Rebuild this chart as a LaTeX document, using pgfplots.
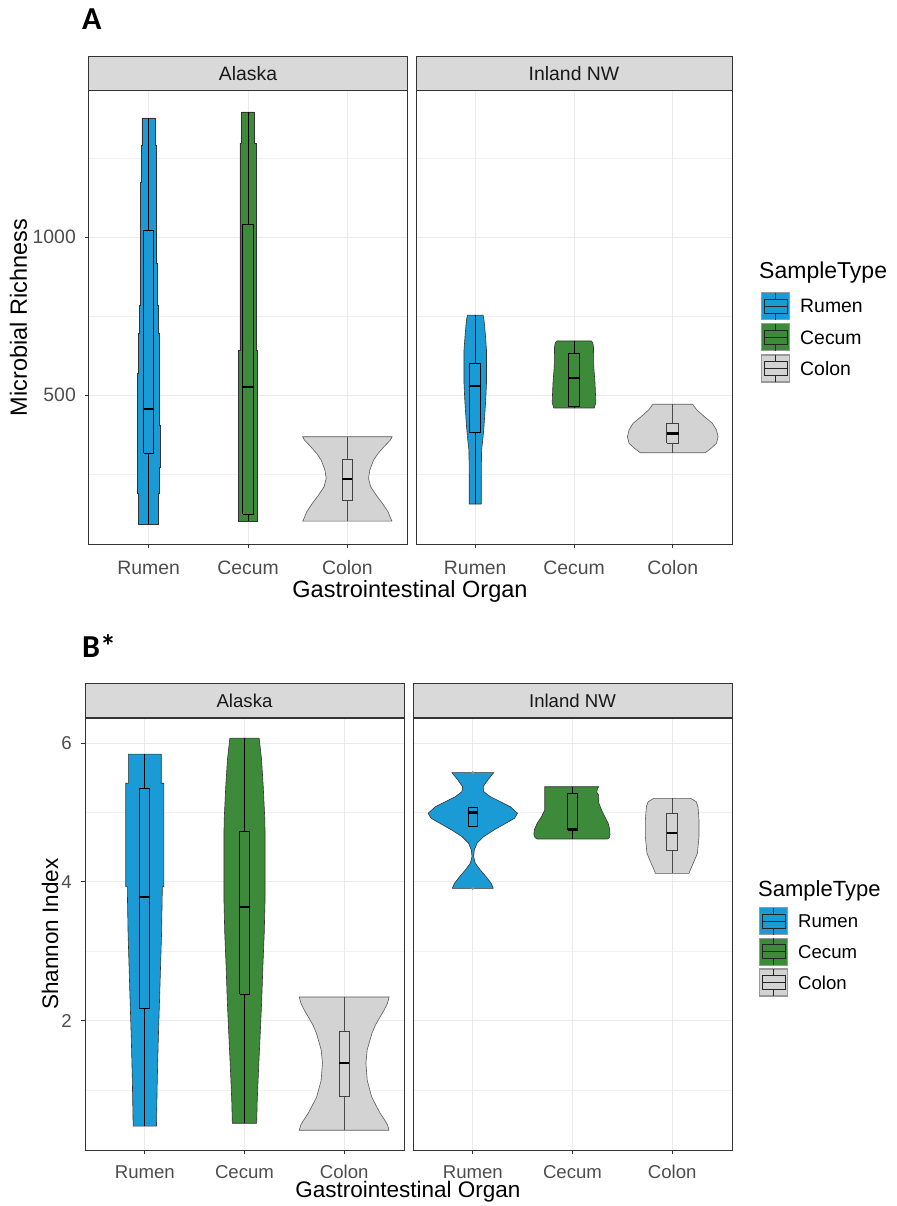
\documentclass[border=0pt]{standalone}
\usepackage{fontspec}
\setmainfont{Liberation Sans}
\newfontfamily\carlito{Carlito}
\usepackage{pgfplots}
\pgfplotsset{compat=1.18}

\definecolor{rumenc}{RGB}{27,155,213}
\definecolor{cecumc}{RGB}{61,139,58}
\definecolor{colonc}{RGB}{211,211,211}
\definecolor{stripc}{RGB}{217,217,217}
\definecolor{framec}{RGB}{51,51,51}
\definecolor{gridc}{RGB}{235,235,235}
\definecolor{tickc}{RGB}{77,77,77}

\newcommand\fA{\fontsize{19.4}{22}\selectfont}
\newcommand\fB{\fontsize{18.6}{21}\selectfont}

\newcommand{\legkey}[1]{%
  \draw[fill=#1, draw=black!40, line width=1.2pt] (0pt,-13.5pt) rectangle (28pt,13.5pt);
  \draw[draw=black!85, line width=0.9pt] (2.5pt,-7pt) rectangle (25.5pt,7pt);
  \draw[draw=black!85, line width=0.9pt] (2.5pt,0pt) -- (25.5pt,0pt) (14pt,7pt) -- (14pt,13.5pt) (14pt,-7pt) -- (14pt,-13.5pt);
}

\pgfplotsset{
  facet/.style={
    scale only axis, anchor=south west, clip=false,
    xmin=0.4, xmax=3.6,
    xtick={1,2,3}, xticklabels={Rumen,Cecum,Colon},
    axis line style={draw=framec, line width=1pt},
    tick pos=left, tick align=outside, major tick length=4pt,
    tick style={draw=framec, line width=0.8pt},
    minor tick length=0pt,
    xmajorgrids, ymajorgrids, yminorgrids,
    major grid style={draw=gridc, line width=0.8pt},
    minor grid style={draw=gridc!70, line width=0.45pt},
    xticklabel style={anchor=base, inner sep=0pt, text=tickc},
    yticklabel style={anchor=east, inner sep=0pt, text=tickc, xshift=-9pt},
    every axis title/.style={at={(0.5,1)}, anchor=south, fill=stripc, draw=framec, line width=1pt, minimum height=34pt, inner sep=0pt, text=black!90},
    legend cell align=left,
  },
  vio/.style={fill=#1, draw=black!80, line width=0.6pt, forget plot},
  bxw/.style={draw=black, line width=0.8pt, forget plot},
  bxb/.style={fill=#1, draw=black, line width=0.9pt, forget plot},
  bxm/.style={draw=black, line width=2.4pt, forget plot},
}

\begin{document}
\begin{tikzpicture}
\useasboundingbox (0pt,0pt) rectangle (896pt,-1206pt);

% ================= Panel A, Alaska =================
\begin{axis}[facet, at={(89pt,-544pt)}, width=318pt, height=453pt,
  ymin=28.5, ymax=1462, ytick={500,1000}, yticklabels={500,1000}, minor ytick={250,750,1250},
  tick label style={font=\fA}, xticklabel style={yshift=-26pt},
  title=Alaska, title style={minimum width=318pt, font=\fA},
  ylabel={Microbial Richness},
  every axis y label/.style={at={(axis description cs:-0.195,0.5)}, rotate=90, anchor=base, font=\fontsize{23.5}{26}\selectfont},
  xlabel={Gastrointestinal Organ},
  every axis x label/.style={at={(axis description cs:1.0094,-0.117)}, anchor=base, font=\fontsize{23.5}{26}\selectfont},
]
% Rumen
\addplot[vio=rumenc] coordinates {(1.100,92) (1.100,190) (1.111,190) (1.111,272) (1.116,272) (1.116,405) (1.111,405) (1.111,570) (1.106,570) (1.106,696) (1.096,696) (1.096,785) (1.086,785) (1.086,918) (1.080,918) (1.080,1174) (1.075,1174) (1.075,1291) (1.067,1291) (1.067,1377) (0.933,1377) (0.933,1291) (0.925,1291) (0.925,1174) (0.920,1174) (0.920,918) (0.914,918) (0.914,785) (0.904,785) (0.904,696) (0.894,696) (0.894,570) (0.889,570) (0.889,405) (0.884,405) (0.884,272) (0.889,272) (0.889,190) (0.900,190) (0.900,92) (1.100,92)};
\addplot[bxw] coordinates {(1,92) (1,316)};
\addplot[bxw] coordinates {(1,1022) (1,1377)};
\addplot[bxb=rumenc] coordinates {(0.95,316) (1.05,316) (1.05,1022) (0.95,1022) (0.95,316)};
\addplot[bxm] coordinates {(0.95,456) (1.05,456)};
% Cecum
\addplot[vio=cecumc] coordinates {(2.096,101) (2.096,642) (2.082,642) (2.082,1297) (2.067,1297) (2.067,1396) (1.933,1396) (1.933,1297) (1.918,1297) (1.918,642) (1.904,642) (1.904,101) (2.096,101)};
\addplot[bxw] coordinates {(2,101) (2,123)};
\addplot[bxw] coordinates {(2,1041) (2,1396)};
\addplot[bxb=cecumc] coordinates {(1.945,123) (2.055,123) (2.055,1041) (1.945,1041) (1.945,123)};
\addplot[bxm] coordinates {(1.945,525) (2.055,525)};
% Colon
\addplot[vio=colonc, draw=black!65] coordinates {(3.450,101) (3.443,104.4) (3.409,130.7) (3.352,157.3) (3.290,183.5) (3.234,209.8) (3.213,236.4) (3.226,262.7) (3.264,294.3) (3.310,315.5) (3.369,336.4) (3.433,357.6) (3.450,368) (2.550,368) (2.567,357.6) (2.631,336.4) (2.690,315.5) (2.736,294.3) (2.774,262.7) (2.787,236.4) (2.766,209.8) (2.710,183.5) (2.648,157.3) (2.591,130.7) (2.557,104.4) (2.550,101) (3.450,101)};
\addplot[bxw, draw=black!70] coordinates {(3,101) (3,167.7)};
\addplot[bxw, draw=black!70] coordinates {(3,297.5) (3,368)};
\addplot[bxb=colonc, draw=black!75] coordinates {(2.95,167.7) (3.05,167.7) (3.05,297.5) (2.95,297.5) (2.95,167.7)};
\addplot[bxm] coordinates {(2.95,234.2) (3.05,234.2)};
\end{axis}

% ================= Panel A, Inland NW =================
\begin{axis}[facet, at={(416pt,-544pt)}, width=316pt, height=453pt,
  ymin=28.5, ymax=1462, ytick={500,1000}, yticklabels={}, minor ytick={250,750,1250},
  major y tick style={draw=none},
  tick label style={font=\fA}, xticklabel style={yshift=-26pt},
  title=Inland NW, title style={minimum width=316pt, font=\fA},
  legend style={at={(axis description cs:1.0918,0.5563)}, anchor=north west, draw=none, fill=none, inner sep=0pt, outer sep=0pt, row sep=3pt, column sep=5pt, nodes={inner xsep=5pt, inner ysep=0pt, text depth=0pt, font=\fA}},
]
\addlegendimage{legend image code/.code={\legkey{rumenc}}}
\addlegendentry{Rumen}
\addlegendimage{legend image code/.code={\legkey{cecumc}}}
\addlegendentry{Cecum}
\addlegendimage{legend image code/.code={\legkey{colonc}}}
\addlegendentry{Colon}
% Rumen
\addplot[vio=rumenc] coordinates {(1.061,155) (1.061,241) (1.064,326) (1.076,358) (1.088,399) (1.106,484) (1.114,538) (1.114,642) (1.101,696) (1.089,737) (1.079,753) (0.921,753) (0.911,737) (0.899,696) (0.886,642) (0.886,538) (0.894,484) (0.912,399) (0.924,358) (0.936,326) (0.939,241) (0.939,155) (1.061,155)};
\addplot[bxw] coordinates {(1,155) (1,380)};
\addplot[bxw] coordinates {(1,601) (1,753)};
\addplot[bxb=rumenc] coordinates {(0.944,380) (1.056,380) (1.056,601) (0.944,601) (0.944,380)};
\addplot[bxm] coordinates {(0.944,528) (1.056,528)};
% Cecum
\addplot[vio=cecumc] coordinates {(2.205,459) (2.220,475) (2.220,484) (2.213,538) (2.200,589) (2.197,652) (2.190,665) (2.175,671) (1.825,671) (1.810,665) (1.803,652) (1.800,589) (1.787,538) (1.780,484) (1.780,475) (1.795,459) (2.205,459)};
\addplot[bxw] coordinates {(2,459) (2,465)};
\addplot[bxw] coordinates {(2,632) (2,671)};
\addplot[bxb=cecumc] coordinates {(1.944,465) (2.056,465) (2.056,632) (1.944,632) (1.944,465)};
\addplot[bxm] coordinates {(1.944,553) (2.056,553)};
% Colon
\addplot[vio=colonc, draw=black!65] coordinates {(3.329,317.4) (3.388,331.3) (3.443,347.2) (3.459,368) (3.443,389.2) (3.402,410.4) (3.321,431.3) (3.245,452.5) (3.201,470.6) (2.799,470.6) (2.755,452.5) (2.679,431.3) (2.598,410.4) (2.557,389.2) (2.541,368) (2.557,347.2) (2.612,331.3) (2.671,317.4) (3.329,317.4)};
\addplot[bxw, draw=black!70] coordinates {(3,317.4) (3,347.2)};
\addplot[bxw, draw=black!70] coordinates {(3,410.4) (3,470.6)};
\addplot[bxb=colonc, draw=black!75] coordinates {(2.938,347.2) (3.062,347.2) (3.062,410.4) (2.938,410.4) (2.938,347.2)};
\addplot[bxm] coordinates {(2.938,378.8) (3.062,378.8)};
\end{axis}

% ================= Panel B, Alaska =================
\begin{axis}[facet, at={(85pt,-1150pt)}, width=319pt, height=432pt,
  ymin=0.135, ymax=6.36, ytick={2,4,6}, yticklabels={2,4,6}, minor ytick={1,3,5},
  tick label style={font=\fB}, xticklabel style={yshift=-24pt},
  title=Alaska, title style={minimum width=319pt, font=\fB},
  ylabel={Shannon Index},
  every axis y label/.style={at={(axis description cs:-0.0846,0.5)}, rotate=90, anchor=base, font=\fontsize{22.5}{25}\selectfont},
  xlabel={Gastrointestinal Organ},
  every axis x label/.style={at={(axis description cs:1.0125,-0.111)}, anchor=base, font=\fontsize{22.5}{25}\selectfont},
]
% Rumen
\addplot[vio=rumenc] coordinates {(1.117,0.48) (1.125,1.14) (1.135,1.72) (1.150,2.40) (1.168,3.26) (1.176,3.93) (1.191,3.93) (1.191,5.42) (1.165,5.42) (1.165,5.84) (0.835,5.84) (0.835,5.42) (0.809,5.42) (0.809,3.93) (0.824,3.93) (0.832,3.26) (0.850,2.40) (0.865,1.72) (0.875,1.14) (0.883,0.48) (1.117,0.48)};
\addplot[bxw] coordinates {(1,0.48) (1,2.17)};
\addplot[bxw] coordinates {(1,5.35) (1,5.84)};
\addplot[bxb=rumenc] coordinates {(0.95,2.17) (1.05,2.17) (1.05,5.35) (0.95,5.35) (0.95,2.17)};
\addplot[bxm] coordinates {(0.95,3.78) (1.05,3.78)};
% Cecum
\addplot[vio=cecumc] coordinates {(2.122,0.52) (2.128,0.86) (2.142,1.33) (2.158,1.82) (2.173,2.30) (2.184,2.77) (2.198,3.26) (2.206,3.74) (2.206,4.70) (2.204,4.89) (2.188,5.37) (2.171,5.76) (2.147,6.07) (1.853,6.07) (1.829,5.76) (1.812,5.37) (1.796,4.89) (1.794,4.70) (1.794,3.74) (1.802,3.26) (1.816,2.77) (1.827,2.30) (1.842,1.82) (1.858,1.33) (1.872,0.86) (1.878,0.52) (2.122,0.52)};
\addplot[bxw] coordinates {(2,0.52) (2,2.38)};
\addplot[bxw] coordinates {(2,4.72) (2,6.07)};
\addplot[bxb=cecumc] coordinates {(1.95,2.38) (2.05,2.38) (2.05,4.72) (1.95,4.72) (1.95,2.38)};
\addplot[bxm] coordinates {(1.95,3.64) (2.05,3.64)};
% Colon
\addplot[vio=colonc, draw=black!65] coordinates {(3.451,0.42) (3.434,0.50) (3.400,0.58) (3.359,0.67) (3.315,0.79) (3.276,0.90) (3.231,1.14) (3.218,1.39) (3.231,1.58) (3.279,1.82) (3.315,1.94) (3.359,2.05) (3.400,2.15) (3.434,2.25) (3.451,2.34) (2.549,2.34) (2.566,2.25) (2.600,2.15) (2.641,2.05) (2.685,1.94) (2.721,1.82) (2.769,1.58) (2.782,1.39) (2.769,1.14) (2.724,0.90) (2.685,0.79) (2.641,0.67) (2.600,0.58) (2.566,0.50) (2.549,0.42) (3.451,0.42)};
\addplot[bxw, draw=black!70] coordinates {(3,0.42) (3,0.91)};
\addplot[bxw, draw=black!70] coordinates {(3,1.85) (3,2.34)};
\addplot[bxb=colonc, draw=black!75] coordinates {(2.95,0.91) (3.05,0.91) (3.05,1.85) (2.95,1.85) (2.95,0.91)};
\addplot[bxm] coordinates {(2.95,1.39) (3.05,1.39)};
\end{axis}

% ================= Panel B, Inland NW =================
\begin{axis}[facet, at={(413pt,-1150pt)}, width=319pt, height=432pt,
  ymin=0.135, ymax=6.36, ytick={2,4,6}, yticklabels={}, minor ytick={1,3,5},
  major y tick style={draw=none},
  tick label style={font=\fB}, xticklabel style={yshift=-24pt},
  title=Inland NW, title style={minimum width=319pt, font=\fB},
  legend style={at={(axis description cs:1.0846,0.5625)}, anchor=north west, draw=none, fill=none, inner sep=0pt, outer sep=0pt, row sep=2.5pt, column sep=5pt, nodes={inner xsep=5pt, inner ysep=0pt, text depth=0pt, font=\fB}},
]
\addlegendimage{legend image code/.code={\legkey{rumenc}}}
\addlegendentry{Rumen}
\addlegendimage{legend image code/.code={\legkey{cecumc}}}
\addlegendentry{Cecum}
\addlegendimage{legend image code/.code={\legkey{colonc}}}
\addlegendentry{Colon}
% Rumen
\addplot[vio=rumenc] coordinates {(1.206,3.906) (1.184,3.978) (1.133,4.073) (1.075,4.170) (1.025,4.267) (1.008,4.362) (1.015,4.458) (1.042,4.555) (1.108,4.650) (1.211,4.746) (1.331,4.843) (1.418,4.915) (1.448,4.987) (1.376,5.082) (1.276,5.154) (1.176,5.226) (1.110,5.298) (1.103,5.370) (1.150,5.467) (1.209,5.572) (0.791,5.572) (0.850,5.467) (0.897,5.370) (0.890,5.298) (0.824,5.226) (0.724,5.154) (0.624,5.082) (0.552,4.987) (0.582,4.915) (0.669,4.843) (0.789,4.746) (0.892,4.650) (0.958,4.555) (0.985,4.458) (0.992,4.362) (0.975,4.267) (0.925,4.170) (0.867,4.073) (0.816,3.978) (0.794,3.906) (1.206,3.906)};
\addplot[bxb=rumenc] coordinates {(0.953,4.794) (1.047,4.794) (1.047,5.068) (0.953,5.068) (0.953,4.794)};
\addplot[bxm] coordinates {(0.953,4.997) (1.047,4.997)};
\addplot[only marks, mark=*, mark size=1.3pt, draw=black!45, fill=black!45, forget plot] coordinates {(1,5.572) (1,3.906)};
% Cecum
\addplot[vio=cecumc] coordinates {(2.350,4.617) (2.370,4.635) (2.376,4.680) (2.374,4.746) (2.358,4.843) (2.324,4.938) (2.291,5.035) (2.264,5.135) (2.262,5.25) (2.243,5.29) (2.250,5.34) (2.264,5.370) (1.722,5.370) (1.722,5.035) (1.689,4.938) (1.646,4.843) (1.616,4.746) (1.613,4.680) (1.625,4.635) (1.645,4.617) (2.350,4.617)};
\addplot[bxw] coordinates {(2,4.617) (2,4.746)};
\addplot[bxw] coordinates {(2,5.275) (2,5.370)};
\addplot[bxb=cecumc] coordinates {(1.95,4.746) (2.05,4.746) (2.05,5.275) (1.95,5.275) (1.95,4.746)};
\addplot[bxm] coordinates {(1.95,4.765) (2.05,4.765)};
% Colon
\addplot[vio=colonc, draw=black!65] coordinates {(3.168,4.122) (3.189,4.195) (3.218,4.290) (3.253,4.411) (3.269,4.650) (3.269,4.890) (3.259,5.082) (3.241,5.154) (3.184,5.203) (2.816,5.203) (2.759,5.154) (2.741,5.082) (2.731,4.890) (2.731,4.650) (2.747,4.411) (2.782,4.290) (2.811,4.195) (2.832,4.122) (3.168,4.122)};
\addplot[bxw, draw=black!70] coordinates {(3,4.122) (3,4.448)};
\addplot[bxw, draw=black!70] coordinates {(3,4.987) (3,5.203)};
\addplot[bxb=colonc, draw=black!75] coordinates {(2.947,4.448) (3.053,4.448) (3.053,4.987) (2.947,4.987) (2.947,4.448)};
\addplot[bxm] coordinates {(2.947,4.699) (3.053,4.699)};
\end{axis}

% panel letters and legend titles
\node[anchor=base west, inner sep=0pt, font={\carlito\bfseries\fontsize{32}{36}\selectfont}] at (82pt,-30pt) {A};
\node[anchor=base west, inner sep=0pt, font={\carlito\bfseries\fontsize{32}{36}\selectfont}] at (82pt,-657pt) {B*};
\node[anchor=base west, inner sep=0pt, font=\fontsize{23}{26}\selectfont] at (759pt,-278pt) {SampleType};
\node[anchor=base west, inner sep=0pt, font=\fontsize{22}{25}\selectfont] at (758pt,-896pt) {SampleType};
\end{tikzpicture}
\end{document}
